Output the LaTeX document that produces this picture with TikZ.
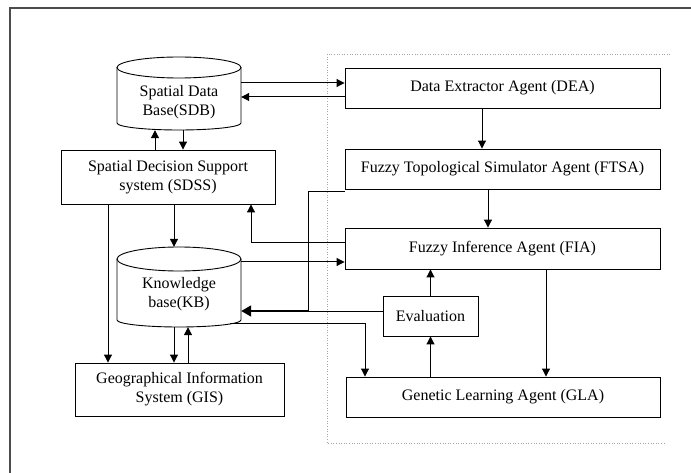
\documentclass[tikz,border=0pt]{standalone}
\usepackage{fontspec}
\setmainfont{Liberation Serif}
\usetikzlibrary{arrows.meta}
\begin{document}
\begin{tikzpicture}[x=1pt,y=-1pt,
  box/.style={draw, line width=0.9pt, inner sep=0pt, align=center, font=\fontsize{16}{19}\selectfont},
  lbl/.style={inner sep=0pt, align=center, font=\fontsize{16}{19}\selectfont},
  hold/.style={inner sep=0pt},
  conn/.style={line width=1pt},
  arr/.style={conn, -{Triangle[length=8pt,width=8pt]}},
  cyl/.style={line width=0.9pt},
]
\useasboundingbox (0,0) rectangle (691,473);
% frame
\draw[line width=1.2pt, black!70] (10,473) -- (10,8) -- (691,8);
\draw[dotted, black!35, line width=0.6pt] (670,54) -- (327,54) -- (327,443) -- (665,443);

% cylinders
\node[hold, minimum width=124pt, minimum height=73pt] (sdb) at (179,93.5) {};
\draw[cyl] (179,67.5) ellipse [x radius=62pt, y radius=10.5pt];
\draw[cyl] (117,67.5) -- (117,123) arc[start angle=180, end angle=360, x radius=62pt, y radius=7pt] -- (241,67.5);
\node[lbl] (sdbt) at (179,102) {Spatial Data\\Base(SDB)};

\node[hold, minimum width=124pt, minimum height=80pt] (kb) at (179,287) {};
\draw[cyl] (179,259) ellipse [x radius=62pt, y radius=12pt];
\draw[cyl] (117,259) -- (117,320) arc[start angle=180, end angle=360, x radius=62pt, y radius=7pt] -- (241,259);
\node[lbl] (kbt) at (179,294) {Knowledge\\base(KB)};

% boxes
\node[box, minimum width=214pt, minimum height=54pt] (sdss) at (168,177) {Spatial Decision Support\\system (SDSS)};
\node[box, minimum width=209pt, minimum height=53pt] (gis) at (179.5,389.5) {Geographical Information\\System (GIS)};
\node[box, minimum width=315pt, minimum height=40pt] (dea) at (502.5,88) {Data Extractor Agent (DEA)};
\node[box, minimum width=315pt, minimum height=40pt] (ftsa) at (502.5,169) {Fuzzy Topological Simulator Agent (FTSA)};
\node[box, minimum width=315pt, minimum height=41pt] (fia) at (502.5,248.5) {Fuzzy Inference Agent (FIA)};
\node[box, minimum width=314pt, minimum height=40pt] (gla) at (503,397) {Genetic Learning Agent (GLA)};
\node[box, minimum width=95pt, minimum height=40pt] (eval) at (430.5,316) {Evaluation};

% connectors
\draw[arr] (sdb.east |- 0,83) -- (dea.west |- 0,83);
\draw[arr] (dea.west |- 0,97) -- (sdb.east |- 0,97);
\draw[arr] (sdss.north -| 155,0) -- (sdb.south -| 155,0);
\draw[arr] (sdb.south -| 183,0) -- (sdss.north -| 183,0);
\draw[arr] (sdss.south -| 174,0) -- (kb.north -| 174,0);
\draw[arr] (sdss.south -| 108,0) -- (gis.north -| 108,0);
\draw[arr] (kb.south -| 174,0) -- (gis.north -| 174,0);
\draw[arr] (gis.north -| 188,0) -- (kb.south -| 188,0);
\draw[arr] (dea.south -| 482,0) -- (ftsa.north -| 482,0);
\draw[arr] (ftsa.south -| 488,0) -- (fia.north -| 488,0);
\draw[arr] (fia.south -| 546,0) -- (gla.north -| 546,0);
\draw[arr] (eval.north) -- (eval.north |- fia.south);
\draw[arr] (eval.south |- gla.north) -- (eval.south);
\draw[arr] (fia.west |- 0,243) -| (sdss.south -| 251,0);
\draw[arr] (kb.east |- 0,262) -- (fia.west |- 0,262);
\coordinate (j) at (308,311);
\draw[conn] ([yshift=-2pt]ftsa.south west) -| (j);
\draw[conn] (eval.west |- j) -- (j);
\draw[line width=1.8pt, -{Triangle[length=10pt,width=11pt]}] (j) -- (kb.east |- j);
\draw[arr] ([shift={(51pt,4pt)}]kb.south) -| (gla.north -| 365,0);
\end{tikzpicture}
\end{document}
